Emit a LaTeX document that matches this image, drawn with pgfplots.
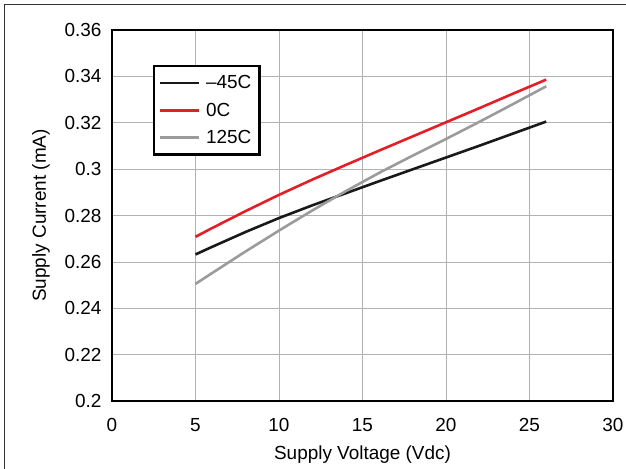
\documentclass[border=0pt]{standalone}
\usepackage{fontspec}
\setmainfont{Liberation Sans}
\usepackage{pgfplots}
\pgfplotsset{compat=1.18}
\definecolor{curvered}{RGB}{228,30,38}
\definecolor{curvegray}{RGB}{155,155,155}
\definecolor{curveblack}{RGB}{25,25,25}
\newcommand{\chartfont}{\fontsize{19}{22}\selectfont}

\begin{document}
\begin{tikzpicture}
  \begin{axis}[
      name=ax,
      scale only axis,
      width=501bp, height=371bp,
      xmin=0, xmax=30, ymin=0.2, ymax=0.36,
      xtick={0,5,10,15,20,25,30},
      ytick={0.2,0.22,0.24,0.26,0.28,0.3,0.32,0.34,0.36},
      yticklabels={0.2,0.22,0.24,0.26,0.28,0.3,0.32,0.34,0.36},
      major tick length=0pt,
      grid=major,
      grid style={gray!60, line width=0.6pt},
      axis line style={line width=2.6pt},
      tick label style={font=\chartfont},
      /pgf/number format/assume math mode=true,
      label style={font=\chartfont},
      xlabel={Supply Voltage (Vdc)},
      ylabel={Supply Current (mA)},
      xticklabel style={yshift=-14bp},
      yticklabel style={xshift=-7bp},
      xlabel style={yshift=-7bp},
      ylabel style={yshift=8bp},
      legend cell align=left,
      legend style={at={(rel axis cs:0.0815,0.906)}, anchor=north west,
                    draw=black, line width=2.6pt, font=\chartfont,
                    inner xsep=6bp, inner ysep=7.5bp, row sep=8.5bp},
      legend image code/.code={\fill[#1, draw=none] (0bp,-1.4bp) rectangle (39bp,1.4bp);},
    ]
    \addplot[curveblack, line width=2.6pt] coordinates {
      (5,0.2632) (6,0.2665) (8,0.2729) (10,0.2789) (12,0.2844) (14,0.2896)
      (16,0.2948) (18,0.2999) (20,0.3050) (22,0.3101) (24,0.3153) (26,0.3205)};
    \addlegendentry{\hspace*{5bp}–45C}
    \addplot[curvered, line width=2.6pt] coordinates {
      (5,0.2708) (6,0.2746) (8,0.2819) (10,0.2889) (12,0.2955) (14,0.3018)
      (16,0.3080) (18,0.3141) (20,0.3202) (22,0.3263) (24,0.3325) (26,0.3386)};
    \addlegendentry{\hspace*{5bp}0C}
    \addplot[curvegray, line width=2.6pt] coordinates {
      (5,0.2505) (6,0.2552) (8,0.2645) (10,0.2735) (12,0.2822) (14,0.2905)
      (16,0.2984) (18,0.3058) (20,0.3130) (22,0.3204) (24,0.3280) (26,0.3357)};
    \addlegendentry{\hspace*{5bp}125C}
  \end{axis}
  % page frame as in the reference (left and top edges only)
  \pgfresetboundingbox
  \path[use as bounding box] ([xshift=-112bp,yshift=-68bp]ax.south west) rectangle ++(626bp,469bp);
  \draw[black!80, line width=1pt]
    ([xshift=-107.5bp,yshift=-68bp]ax.south west) -- ++(0bp,464.5bp) -- ++(621.5bp,0bp);
\end{tikzpicture}
\end{document}
